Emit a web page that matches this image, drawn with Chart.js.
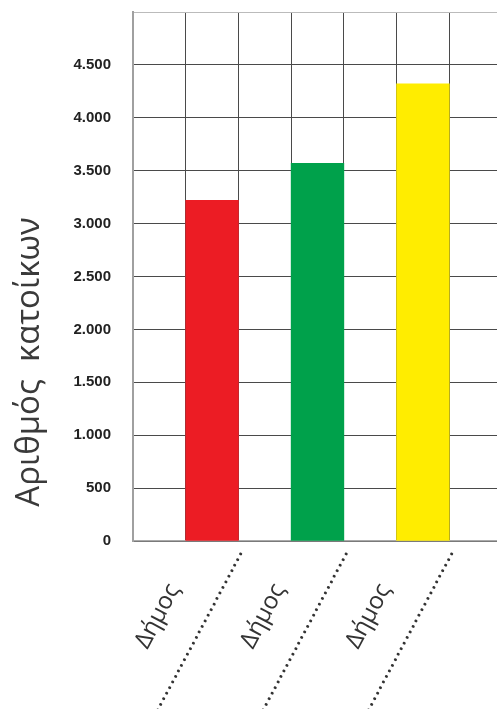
<!DOCTYPE html>
<html>
<head>
<meta charset="utf-8">
<script src="https://cdn.jsdelivr.net/npm/chart.js@4"></script>
<style>
  html, body { margin: 0; padding: 0; background: #fff; overflow: hidden; }
  #wrap { width: 502px; height: 709px; }
</style>
</head>
<body>
<div id="wrap"><canvas id="myChart"></canvas></div>
<script>
const municipalities = ['Δήμος', 'Δήμος', 'Δήμος'];
const residents = [3220, 3570, 4320];
const barColors = ['#ec1c24', '#00a14b', '#ffed00'];
const yTicks = [0, 500, 1000, 1500, 2000, 2500, 3000, 3500, 4000, 4500, 5000];
const yTitle = 'Αριθμός  κατοίκων';

let config = "";
let myChart;

function formatNumber(v)
{
  return String(v).replace(/\B(?=(\d{3})+(?!\d))/g, '.');
}

function initializeGraphic()
{
  // every bar sits in its own column with an empty column on each side
  const labels = [''];
  const values = [null];
  const colors = ['transparent'];
  municipalities.forEach((name, i) => {
    labels.push([name + '             ', '.'.repeat(40) + '   ']);
    values.push(residents[i]);
    colors.push(barColors[i]);
    labels.push('');
    values.push(null);
    colors.push('transparent');
  });

  const data = {
    labels: labels,
    datasets: [{
      data: values,
      backgroundColor: colors,
      borderWidth: 0,
      barPercentage: 1,
      categoryPercentage: 1
    }]
  };

  config = {
    type: 'bar',
    data: data,
    options: {
      responsive: true,
      maintainAspectRatio: false,
      animation: false,
      layout: { padding: { top: 12, left: 0, right: 0, bottom: 0 } },
      plugins: {
        legend: { display: false },
        tooltip: { enabled: false }
      },
      scales: {
        x: {
          z: 1,
          afterFit: (scale) => { scale.height = 168; },
          grid: { color: '#4a4a4a', lineWidth: 1, drawTicks: false, offset: true },
          border: { color: '#aaaaaa', width: 1.5 },
          ticks: {
            autoSkip: false,
            minRotation: 62,
            maxRotation: 62,
            padding: -36,
            color: '#333',
            font: { family: 'Open Sans', size: 24, lineHeight: 1.6 }
          }
        },
        y: {
          z: 1,
          min: 0,
          max: 5000,
          afterFit: (scale) => {
            scale.width = 133;
            scale.paddingTop = 0;
            scale.paddingBottom = 0;
          },
          afterBuildTicks: (scale) => { scale.ticks = yTicks.map(v => ({ value: v })); },
          grid: {
            drawTicks: false,
            color: (ctx) => ctx.tick && ctx.tick.value === 5000 ? '#bbbbbb' : '#4a4a4a'
          },
          border: { color: '#a0a0a0', width: 2 },
          ticks: {
            padding: 22,
            color: '#222',
            font: { family: 'Liberation Sans', size: 15, weight: 'bold' },
            callback: (v) => v === 5000 ? '' : formatNumber(v)
          },
          title: {
            display: true,
            text: '    ' + yTitle,
            align: 'start',
            color: '#3a3a3a',
            padding: { top: 10, bottom: 0 },
            font: { family: 'Open Sans', size: 33, weight: 'normal' }
          }
        }
      }
    }
  };
}

function drawGraphic()
{
  let ctx = document.getElementById('myChart').getContext("2d");

  if (myChart) {
    myChart.destroy();
  }

  myChart = new Chart(
    ctx,
    config
  );
}

initializeGraphic();
drawGraphic();
</script>
</body>
</html>
